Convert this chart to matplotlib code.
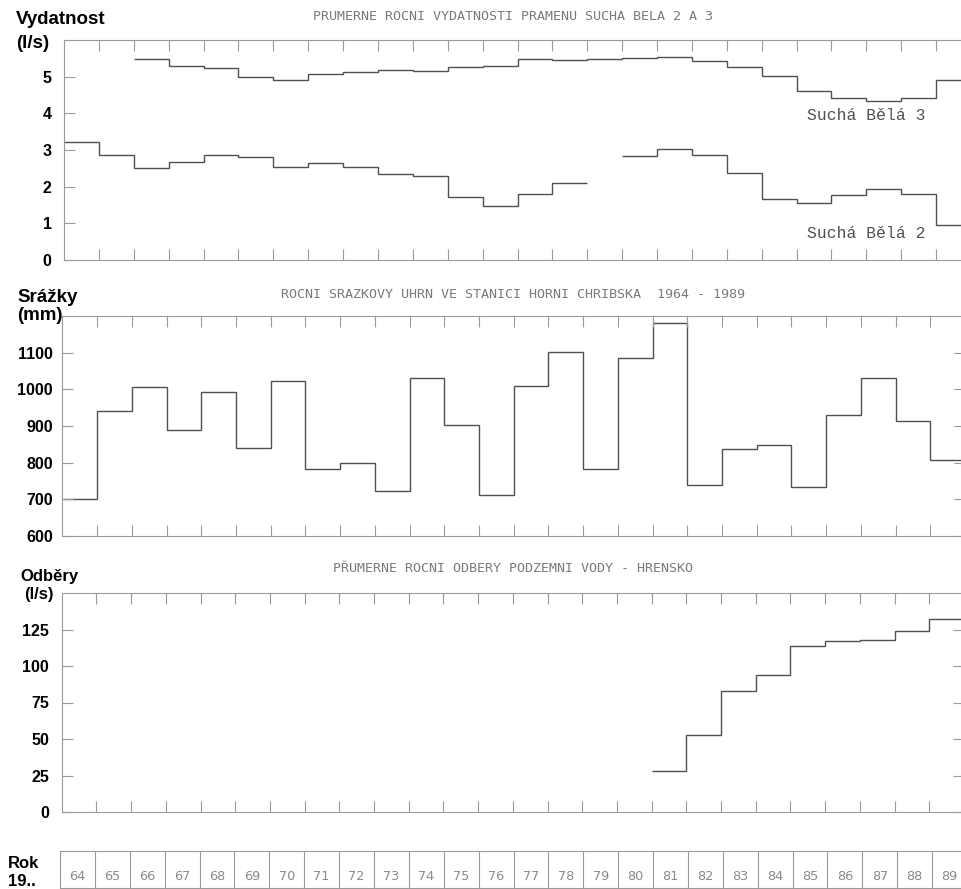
import numpy as np
import matplotlib.pyplot as plt

nan = np.nan

# roky 1964 - 1989 (hrany schodu az do 1990)
years = list(range(1964, 1990))
year_labels = [str(y)[2:] for y in years]

# Sucha Bela 2 a 3 - prumerne rocni vydatnosti (l/s)
sb3 = [nan, nan, 5.48, 5.30, 5.24, 4.99, 4.91, 5.08, 5.14, 5.19,
       5.16, 5.27, 5.29, 5.48, 5.45, 5.49, 5.51, 5.53, 5.43, 5.27,
       5.03, 4.60, 4.41, 4.35, 4.41, 4.90]
sb2 = [3.23, 2.87, 2.51, 2.66, 2.86, 2.82, 2.53, 2.64, 2.53, 2.35,
       2.29, 1.73, 1.48, 1.80, 2.10, nan, 2.85, 3.03, 2.87, 2.37,
       1.67, 1.55, 1.78, 1.95, 1.80, 0.96]

# rocni srazkovy uhrn Horni Chribska (mm)
srazky = [700, 940, 1005, 890, 992, 840, 1022, 782, 799, 722,
          1032, 904, 713, 1009, 1102, 784, 1086, 1180, 739, 837,
          848, 733, 930, 1032, 913, 806]

# odbery podzemni vody Hrensko (l/s)
odbery = [nan] * 17 + [28, 53, 83, 94, 114, 117, 118, 124, 132]

titles = ["PRUMERNE ROCNI VYDATNOSTI PRAMENU SUCHA BELA 2 A 3",
          "ROCNI SRAZKOVY UHRN VE STANICI HORNI CHRIBSKA  1964 - 1989",
          "PŘUMERNE ROCNI ODBERY PODZEMNI VODY - HRENSKO"]

W, H = 961, 889
LINE = "#505050"
FRAME = "#9a9a9a"


def box(l, t, r, b):
    return [l / W, 1 - b / H, (r - l) / W, (b - t) / H]


fig = plt.figure(figsize=(W / 100, H / 100), dpi=100)
edges = np.arange(1964, 1991)

ax1 = fig.add_axes(box(64, 40, 971, 260))
ax2 = fig.add_axes(box(62.5, 316, 965, 536))
ax3 = fig.add_axes(box(61.7, 593, 964, 812))

ax1.stairs(sb3, edges, baseline=None, color=LINE, lw=1.0)
ax1.stairs(sb2, edges, baseline=None, color=LINE, lw=1.0)
ax1.set_ylim(0, 6)
ax1.set_yticks([0, 1, 2, 3, 4, 5])

ax2.stairs(srazky, edges, baseline=None, color=LINE, lw=1.0)
ax2.set_ylim(600, 1200)
ax2.set_yticks([600, 700, 800, 900, 1000, 1100])

ax3.stairs(odbery, edges, baseline=None, color=LINE, lw=1.0)
ax3.set_ylim(0, 150)
ax3.set_yticks([0, 25, 50, 75, 100, 125])

for i, ax in enumerate([ax1, ax2, ax3]):
    ax.set_xlim(1964, 1990)
    ax.set_xticks(range(1965, 1990))
    ax.tick_params(axis="x", direction="in", top=True, bottom=True,
                   length=8, width=0.8, color=FRAME, labelbottom=False)
    ax.tick_params(axis="y", direction="in", left=True, right=(i > 0),
                   length=8, width=0.8, color=FRAME, pad=(7 if i == 1 else 9))
    for lab in ax.get_yticklabels():
        lab.set_fontfamily("Liberation Sans")
        lab.set_fontweight("bold")
        lab.set_fontsize(11.5)
    for s in ax.spines.values():
        s.set_color(FRAME)
        s.set_linewidth(0.8)

# popisky krivek
ax1.text(1988.7, 3.95, "Suchá Bělá 3", family="Liberation Mono", fontsize=11.8,
         color="#505050", ha="right", va="center")
ax1.text(1988.7, 0.73, "Suchá Bělá 2", family="Liberation Mono", fontsize=11.8,
         color="#505050", ha="right", va="center")

# nadpisy panelu
for title, y in zip(titles, [16, 294, 569]):
    fig.text(513 / W, 1 - y / H, title, family="DejaVu Sans Mono", fontsize=9.6,
             color="#7a7a7a", ha="center", va="center")

# popisky os
bold = dict(family="Liberation Sans", fontweight="bold", fontsize=13.5,
            va="center", ha="left", color="black")
fig.text(16 / W, 1 - 19 / H, "Vydatnost", **bold)
fig.text(16 / W, 1 - 44 / H, "(l/s)", **bold)
fig.text(17 / W, 1 - 297 / H, "Srážky", **bold)
fig.text(17 / W, 1 - 316 / H, "(mm)", **bold)
small = dict(bold, fontsize=12)
fig.text(20 / W, 1 - 577 / H, "Odběry", **small)
fig.text(24 / W, 1 - 595 / H, "(l/s)", **small)
fig.text(8 / W, 1 - 863 / H, "Rok", **small)
fig.text(8 / W, 1 - 882 / H, "19..", **small)

# radek s roky
ax4 = fig.add_axes(box(60, 851, 967, 888))
ax4.set_xlim(1964, 1990)
ax4.set_ylim(0, 1)
ax4.set_xticks([])
ax4.set_yticks([])
for s in ax4.spines.values():
    s.set_color(FRAME)
    s.set_linewidth(0.8)
for y in years[1:]:
    ax4.axvline(y, color=FRAME, lw=0.8)
for y, lab in zip(years, year_labels):
    ax4.text(y + 0.5, 0.32, lab, ha="center", va="center",
             family="DejaVu Sans", fontsize=9.3, color="#8a8a8a")

fig.savefig("out.png", dpi=100, facecolor="white")
